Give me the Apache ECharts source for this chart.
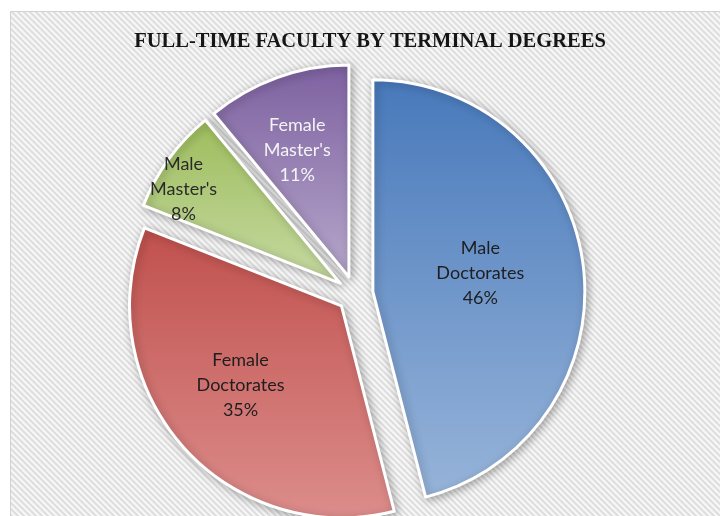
<!DOCTYPE html>
<html>
<head>
<meta charset="utf-8">
<script src="https://cdn.jsdelivr.net/npm/echarts@6/dist/echarts.min.js"></script>
<style>
    html, body {margin:0;padding:0;background:#fff;}
    #main {width:720px;height:516px;}
</style>
</head>
<body>
<div id="main"></div>
<script>
    // chart data
    var categories = ['Male Doctorates', 'Female Doctorates', "Male Master's", "Female Master's"];
    var shares = [46, 35, 8, 11];

    // styles per slice (gradient top / bottom, label colour, label distance as share of radius, label turn in degrees)
    var topColors = ['#4879bb', '#c0504d', '#9dbd5c', '#7d61a0'];
    var bottomColors = ['#97b4d9', '#dc8d8b', '#c6d9a2', '#b6a7cb'];
    var labelColors = ['#1e1e1e', '#1e1e1e', '#2a2a2a', '#f4f4f4'];
    var labelPos = [0.5, 0.59, 0.85, 0.63];
    var labelTurn = [-2.5, 3.5, -5, -2.5];

    var radius = 212;

    // striped background tile
    var tile = document.createElement('canvas');
    tile.width = 6;
    tile.height = 6;
    var g = tile.getContext('2d');
    g.fillStyle = '#f7f7f7';
    g.fillRect(0, 0, 6, 6);
    g.strokeStyle = '#dedede';
    g.lineWidth = 2;
    g.beginPath();
    g.moveTo(-1, -1); g.lineTo(7, 7);
    g.moveTo(-1, 5); g.lineTo(1, 7);
    g.moveTo(5, -1); g.lineTo(7, 1);
    g.stroke();

    var total = shares.reduce(function (a, b) { return a + b; }, 0);

    var pieData = categories.map(function (name, i) {
        return {
            name: name,
            value: shares[i],
            selected: true,
            itemStyle: {
                color: new echarts.graphic.LinearGradient(0, 0, 0, 1, [
                    {offset: 0, color: topColors[i]},
                    {offset: 1, color: bottomColors[i]}
                ])
            },
            label: {color: labelColors[i]}
        };
    });

    var chart = echarts.init(document.getElementById('main'));
    var option = {
        animation: false,
        graphic: [{
            type: 'rect',
            z: -10,
            silent: true,
            shape: {x: 10.5, y: 11.5, width: 720, height: 520},
            style: {fill: {image: tile, repeat: 'repeat'}, stroke: '#d2d2d2', lineWidth: 1}
        }],
        title: {
            text: 'FULL-TIME FACULTY BY TERMINAL DEGREES',
            left: 370,
            textAlign: 'center',
            top: 31,
            padding: 0,
            textStyle: {
                fontFamily: 'Liberation Serif',
                fontWeight: 'bold',
                fontSize: 20.5,
                color: '#151515'
            }
        },
        series: [{
            type: 'pie',
            center: [355, 294],
            radius: [0, radius],
            startAngle: 90,
            clockwise: true,
            selectedMode: 'multiple',
            selectedOffset: 18,
            emphasis: {scale: false},
            itemStyle: {
                borderColor: '#ffffff',
                borderWidth: 3,
                shadowBlur: 8,
                shadowColor: 'rgba(0,0,0,0.3)',
                shadowOffsetX: 2,
                shadowOffsetY: 2
            },
            label: {
                position: 'inside',
                fontFamily: 'Lato',
                fontSize: 18,
                lineHeight: 25,
                align: 'center',
                formatter: function (p) {
                    return p.name.replace(' ', '\n') + '\n' + p.value + '%';
                }
            },
            labelLine: {show: false},
            // move each label from the slice middle to where the reference puts it
            labelLayout: function (p) {
                var i = p.dataIndex;
                var before = 0;
                for (var k = 0; k < i; k++) before += shares[k];
                var mid = (before + shares[i] / 2) / total * 2 * Math.PI;
                var to = mid + labelTurn[i] * Math.PI / 180;
                var r = labelPos[i] * radius;
                var r0 = 0.5 * radius;
                return {
                    dx: r * Math.sin(to) - r0 * Math.sin(mid),
                    dy: -(r * Math.cos(to) - r0 * Math.cos(mid))
                };
            },
            data: pieData
        }]
    };
    chart.setOption(option);

    window.onresize = function () {
        chart.resize();
    };
</script>
</body>
</html>
